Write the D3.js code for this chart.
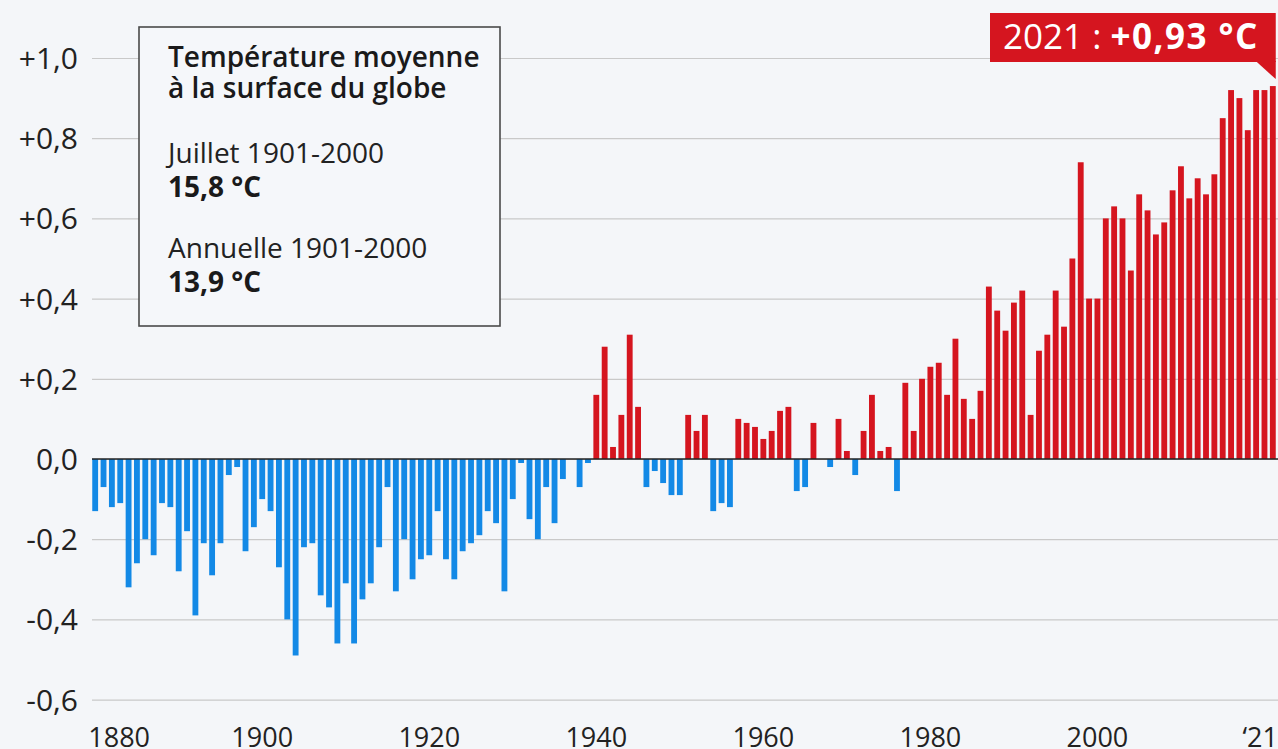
<!DOCTYPE html>
<html lang="fr">
<head>
<meta charset="utf-8">
<script src="https://cdn.jsdelivr.net/npm/d3@7"></script>
<style>
    html, body { margin: 0; padding: 0; background: #f4f6f9; }
    svg { display: block; }
    svg text { font-family: "Open Sans", "Noto Sans", sans-serif; }
</style>
</head>
<body>
<div id="chart"></div>
<script>
// July global surface temperature anomaly vs 1901-2000 mean (°C)
const years = d3.range(1880, 2022);
const anomalies = [
    -0.13, -0.07, -0.12, -0.11, -0.32, -0.26, -0.20, -0.24, -0.11, -0.12,
    -0.28, -0.18, -0.39, -0.21, -0.29, -0.21, -0.04, -0.02, -0.23, -0.17,
    -0.10, -0.13, -0.27, -0.40, -0.49, -0.22, -0.21, -0.34, -0.37, -0.46,
    -0.31, -0.46, -0.35, -0.31, -0.22, -0.07, -0.33, -0.20, -0.30, -0.25,
    -0.24, -0.13, -0.25, -0.30, -0.23, -0.21, -0.19, -0.13, -0.16, -0.33,
    -0.10, -0.01, -0.15, -0.20, -0.07, -0.16, -0.05, 0.00, -0.07, -0.01,
    0.16, 0.28, 0.03, 0.11, 0.31, 0.13, -0.07, -0.03, -0.06, -0.09,
    -0.09, 0.11, 0.07, 0.11, -0.13, -0.11, -0.12, 0.10, 0.09, 0.08,
    0.05, 0.07, 0.12, 0.13, -0.08, -0.07, 0.09, 0.00, -0.02, 0.10,
    0.02, -0.04, 0.07, 0.16, 0.02, 0.03, -0.08, 0.19, 0.07, 0.20,
    0.23, 0.24, 0.16, 0.30, 0.15, 0.10, 0.17, 0.43, 0.37, 0.32,
    0.39, 0.42, 0.11, 0.27, 0.31, 0.42, 0.33, 0.50, 0.74, 0.40,
    0.40, 0.60, 0.63, 0.60, 0.47, 0.66, 0.62, 0.56, 0.59, 0.67,
    0.73, 0.65, 0.70, 0.66, 0.71, 0.85, 0.92, 0.90, 0.82, 0.92,
    0.92, 0.93
];

const yTicks = [1.0, 0.8, 0.6, 0.4, 0.2, 0.0, -0.2, -0.4, -0.6];
const yTickLabels = ['+1,0', '+0,8', '+0,6', '+0,4', '+0,2', '0,0', '-0,2', '-0,4', '-0,6'];
const xTickYears = [1880, 1900, 1920, 1940, 1960, 1980, 2000, 2021];
const xTickLabels = ['1880', '1900', '1920', '1940', '1960', '1980', '2000', '\u201821'];

const boxTitle = ['Température moyenne', 'à la surface du globe'];
const boxLines = [
    { label: 'Juillet 1901-2000', value: '15,8 °C' },
    { label: 'Annuelle 1901-2000', value: '13,9 °C' }
];
const highlight = { year: 2021, prefix: '2021 : ', value: '+0,93 °C' };

const width = 1278;
const height = 749;
const FONT = '"Open Sans", "Noto Sans", sans-serif';
const BLUE = '#1389e6';
const RED = '#d5151f';

const svg = d3.select('#chart')
    .append('svg')
    .attr('width', width)
    .attr('height', height);

const x = d3.scaleBand()
    .domain(years)
    .range([91, 1277])
    .paddingInner(0.3)
    .paddingOuter(0.15);

const y = d3.scaleLinear()
    .domain([-0.6, 1.0])
    .range([699.6, 58]);

// Gridlines + y labels
const yAxis = d3.axisLeft(y)
    .tickValues(yTicks)
    .tickSize(-(width - 92))
    .tickFormat((d, i) => yTickLabels[i]);

const gy = svg.append('g')
    .attr('transform', 'translate(92,0)')
    .call(yAxis)
    .attr('font-family', FONT);

gy.select('.domain').remove();
gy.selectAll('.tick line')
    .attr('stroke', '#c9c9c9')
    .attr('stroke-width', 1.2);
gy.selectAll('.tick text')
    .attr('x', -14)
    .attr('fill', '#222')
    .attr('font-size', 30)
    .attr('dy', '0.35em');

// Bars
const data = years.map((yr, i) => ({ year: yr, value: anomalies[i] }));

svg.append('g')
    .selectAll('rect')
    .data(data.filter(d => d.value !== 0))
    .join('rect')
    .attr('x', d => x(d.year))
    .attr('width', x.bandwidth())
    .attr('y', d => y(Math.max(0, d.value)))
    .attr('height', d => Math.abs(y(d.value) - y(0)))
    .attr('fill', d => d.value > 0 ? RED : BLUE);

// Zero line
svg.append('line')
    .attr('x1', 92)
    .attr('x2', width)
    .attr('y1', y(0))
    .attr('y2', y(0))
    .attr('stroke', '#222')
    .attr('stroke-width', 1.6);

// X labels (first one left-aligned, last one right-aligned)
svg.append('g')
    .selectAll('text')
    .data(xTickYears)
    .join('text')
    .attr('x', (d, i) => {
        if (i === 0) return x(d) - 4;
        if (i === xTickYears.length - 1) return width;
        return x(d) + x.bandwidth() / 2;
    })
    .attr('y', 747)
    .attr('text-anchor', (d, i) => i === 0 ? 'start' : (i === xTickYears.length - 1 ? 'end' : 'middle'))
    .attr('font-size', 27)
    .attr('fill', '#222')
    .text((d, i) => xTickLabels[i]);

// Info box
const box = svg.append('g');
box.append('rect')
    .attr('x', 139)
    .attr('y', 27)
    .attr('width', 361)
    .attr('height', 299)
    .attr('fill', '#f5f7fa')
    .attr('stroke', '#4a4a4a')
    .attr('stroke-width', 1.6);

boxTitle.forEach((t, i) => {
    box.append('text')
        .attr('x', 168)
        .attr('y', 67 + i * 31)
        .attr('font-size', 28)
        .attr('font-weight', 600)
        .attr('fill', '#1a1a1a')
        .text(t);
});

boxLines.forEach((l, i) => {
    const top = 163 + i * 95;
    box.append('text')
        .attr('x', 168)
        .attr('y', top)
        .attr('font-size', 28)
        .attr('fill', '#222')
        .text(l.label);
    box.append('text')
        .attr('x', 168)
        .attr('y', top + 34)
        .attr('font-size', 28)
        .attr('font-weight', 700)
        .attr('fill', '#1a1a1a')
        .text(l.value);
});

// Highlight label for the last year
const hx = x(highlight.year) + x.bandwidth();
const hy = y(anomalies[years.indexOf(highlight.year)]);
const callout = svg.append('g');

callout.append('rect')
    .attr('x', 990)
    .attr('y', 13)
    .attr('width', hx - 990)
    .attr('height', 49)
    .attr('fill', RED);

callout.append('path')
    .attr('d', `M${hx - 20},61 L${hx},61 L${hx},${hy - 7} Z`)
    .attr('fill', RED);

const ht = callout.append('text')
    .attr('x', 1003)
    .attr('y', 49)
    .attr('font-size', 35)
    .attr('fill', '#fff');
ht.append('tspan').text(highlight.prefix);
ht.append('tspan')
    .attr('font-weight', 700)
    .attr('letter-spacing', 1.5)
    .text(highlight.value);
</script>
</body>
</html>
